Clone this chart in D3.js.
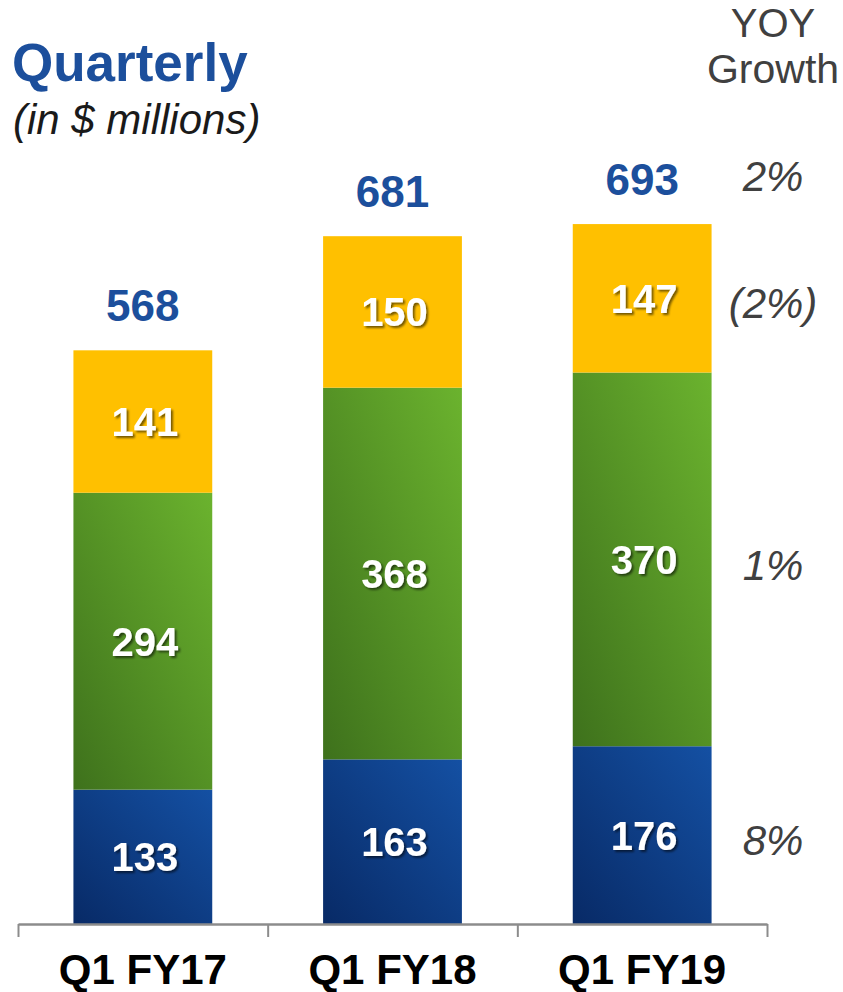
<!DOCTYPE html>
<html>
<head>
<meta charset="utf-8">
<script src="https://cdn.jsdelivr.net/npm/d3@7"></script>
<style>
  body { margin: 0; background: #fff; }
  text { font-family: "Liberation Sans", Arial, sans-serif; }
</style>
</head>
<body>
<svg id="canvas" width="843" height="992"></svg>
<script>
/********** Data **********/
var quarters = ["Q1 FY17", "Q1 FY18", "Q1 FY19"];
var segments = ["blue", "green", "gold"];
var blueValues = [133, 163, 176];
var greenValues = [294, 368, 370];
var goldValues = [141, 150, 147];
var totals = [568, 681, 693];
var growthSegments = ["8%", "1%", "(2%)"];
var growthTotal = "2%";

/********** Setup **********/
var svg = d3.select("#canvas");
var width = +svg.attr("width");
var height = +svg.attr("height");

var rows = quarters.map(function(q, i) {
  return { quarter: q, blue: blueValues[i], green: greenValues[i], gold: goldValues[i], total: totals[i] };
});

var x = d3.scaleBand()
  .domain(quarters)
  .range([18, 767])
  .paddingInner(0.444)
  .paddingOuter(0.222);

var y = d3.scaleLinear()
  .domain([0, 700])
  .range([924, 217]);

var stack = d3.stack().keys(segments);
var series = stack(rows);

/********** Defs: gradients and shadow **********/
var defs = svg.append("defs");

function grad(id, c0, c1) {
  var g = defs.append("linearGradient").attr("id", id)
    .attr("x1", 0).attr("y1", 1).attr("x2", 1).attr("y2", 0);
  g.append("stop").attr("offset", "0%").attr("stop-color", c0);
  g.append("stop").attr("offset", "100%").attr("stop-color", c1);
}
grad("g-blue", "#082a66", "#1450a3");
grad("g-green", "#3e711c", "#6bb32e");
grad("g-gold", "#ffc000", "#ffc000");

defs.append("filter").attr("id", "shadow")
  .attr("x", "-20%").attr("y", "-20%").attr("width", "140%").attr("height", "140%")
  .append("feDropShadow")
  .attr("dx", 2).attr("dy", 2).attr("stdDeviation", 1.2)
  .attr("flood-color", "#000").attr("flood-opacity", 0.55);

/********** Bars **********/
var layer = svg.append("g")
  .selectAll("g")
  .data(series)
  .enter()
  .append("g")
  .attr("fill", function(d) { return "url(#g-" + d.key + ")"; });

layer.selectAll("rect")
  .data(function(d) { return d; })
  .enter()
  .append("rect")
  .attr("x", function(d) { return x(d.data.quarter); })
  .attr("y", function(d) { return y(d[1]); })
  .attr("width", x.bandwidth())
  .attr("height", function(d) { return y(d[0]) - y(d[1]); });

/********** Segment labels **********/
var segLabels = svg.append("g")
  .attr("filter", "url(#shadow)");

series.forEach(function(s) {
  segLabels.selectAll(null)
    .data(s)
    .enter()
    .append("text")
    .attr("x", function(d) { return x(d.data.quarter) + x.bandwidth() / 2 + 2; })
    .attr("y", function(d) { return y((d[0] + d[1]) / 2); })
    .attr("dy", "0.36em")
    .attr("text-anchor", "middle")
    .attr("font-size", 40)
    .attr("font-weight", "bold")
    .attr("fill", "#fff")
    .text(function(d) { return d.data[s.key]; });
});

/********** Totals **********/
svg.append("g")
  .selectAll("text")
  .data(rows)
  .enter()
  .append("text")
  .attr("x", function(d) { return x(d.quarter) + x.bandwidth() / 2; })
  .attr("y", function(d) { return y(d.total) - 29; })
  .attr("text-anchor", "middle")
  .attr("font-size", 44)
  .attr("font-weight", "bold")
  .attr("fill", "#1c4f9c")
  .text(function(d) { return d.total; });

/********** YOY growth column **********/
var last = series.map(function(s) { return s[s.length - 1]; });
var growthX = 773;

svg.append("g")
  .selectAll("text")
  .data(last)
  .enter()
  .append("text")
  .attr("x", growthX)
  .attr("y", function(d) { return y((d[0] + d[1]) / 2) + 5; })
  .attr("dy", "0.36em")
  .attr("text-anchor", "middle")
  .attr("font-size", 42)
  .attr("font-style", "italic")
  .attr("fill", "#404040")
  .text(function(d, i) { return growthSegments[i]; });

svg.append("text")
  .attr("x", growthX)
  .attr("y", y(totals[totals.length - 1]) - 48)
  .attr("dy", "0.36em")
  .attr("text-anchor", "middle")
  .attr("font-size", 42)
  .attr("font-style", "italic")
  .attr("fill", "#404040")
  .text(growthTotal);

svg.append("text")
  .attr("x", growthX)
  .attr("y", 37)
  .attr("text-anchor", "middle")
  .attr("font-size", 40)
  .attr("fill", "#404040")
  .text("YOY");

svg.append("text")
  .attr("x", growthX)
  .attr("y", 83)
  .attr("text-anchor", "middle")
  .attr("font-size", 41)
  .attr("fill", "#404040")
  .text("Growth");

/********** Titles **********/
svg.append("text")
  .attr("x", 12)
  .attr("y", 81)
  .attr("font-size", 53)
  .attr("font-weight", "bold")
  .attr("fill", "#1c4f9c")
  .text("Quarterly");

svg.append("text")
  .attr("x", 13)
  .attr("y", 134)
  .attr("font-size", 42)
  .attr("font-style", "italic")
  .attr("fill", "#1a1a1a")
  .text("(in $ millions)");

/********** Axis **********/
var edges = d3.scaleLinear().domain([0, quarters.length]).range(x.range());

var axis = svg.append("g")
  .attr("transform", "translate(0," + y(0) + ")")
  .call(d3.axisBottom(edges)
    .tickValues(d3.range(quarters.length + 1))
    .tickSize(13)
    .tickSizeOuter(0)
    .tickFormat(""));

axis.select(".domain").attr("stroke", "#8c8c8c").attr("stroke-width", 2.5);
axis.selectAll(".tick line").attr("stroke", "#8c8c8c").attr("stroke-width", 2);

svg.append("g")
  .selectAll("text")
  .data(quarters)
  .enter()
  .append("text")
  .attr("x", function(d) { return x(d) + x.bandwidth() / 2; })
  .attr("y", 984)
  .attr("text-anchor", "middle")
  .attr("font-size", 42)
  .attr("font-weight", "bold")
  .attr("fill", "#000")
  .text(function(d) { return d; });
</script>
</body>
</html>
